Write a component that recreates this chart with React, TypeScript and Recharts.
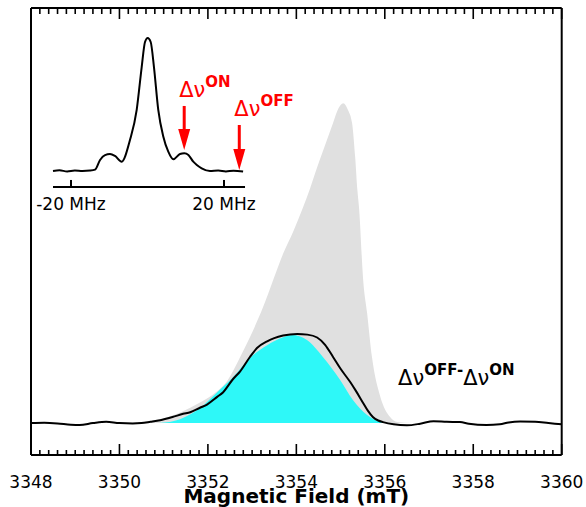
import React from 'react';
import { ComposedChart, Area, Line, XAxis, YAxis, ReferenceLine, ReferenceDot } from 'recharts';

const FONT = '"DejaVu Sans", Verdana, sans-serif';

// ---- main plot axis ticks ----
const majorTicks = [3348, 3350, 3352, 3354, 3356, 3358, 3360];
const minorStep = 0.2;
const allTicks = Array.from({ length: 61 }, (_, i) => +(3348 + i * minorStep).toFixed(1));
const Y_MIN = -1;
const Y_MAX = 13;

// ---- gray spectrum ----
const grayField = [3348, 3350.0, 3350.5, 3350.9, 3351.4, 3351.8, 3352.1, 3352.45, 3352.73, 3352.95, 3353.25, 3353.48, 3353.7, 3353.93, 3354.15, 3354.31, 3354.43, 3354.61, 3354.83, 3354.95, 3355.06, 3355.17, 3355.26, 3355.33, 3355.38, 3355.42, 3355.51, 3355.6, 3355.71, 3355.9, 3356.12, 3356.28, 3356.6, 3360];
const grayValue = [0, 0, 0.03, 0.12, 0.35, 0.63, 0.88, 1.35, 2.07, 2.69, 3.64, 4.5, 5.3, 6.0, 6.75, 7.35, 7.85, 8.55, 9.4, 9.85, 10.02, 9.8, 9.4, 8.33, 7.3, 6.7, 4.5, 3.45, 2.07, 0.82, 0.19, 0.03, 0, 0];

// ---- cyan spectrum ----
const cyanField = [3350.9, 3351.37, 3351.82, 3352.2, 3352.57, 3352.95, 3353.34, 3353.7, 3353.9, 3354.24, 3354.6, 3354.99, 3355.28, 3355.6, 3355.89, 3356.0];
const cyanValue = [0, 0.12, 0.47, 0.95, 1.44, 2.04, 2.44, 2.69, 2.76, 2.6, 2.07, 1.35, 0.72, 0.25, 0.03, 0];

// ---- black difference spectrum ----
const diffField = [3348.0, 3348.3, 3348.6, 3348.9, 3349.1, 3349.4, 3349.7, 3350.0, 3350.3, 3350.5, 3350.7, 3350.92, 3351.2, 3351.44, 3351.6, 3351.82, 3351.98, 3352.21, 3352.34, 3352.57, 3352.73, 3352.95, 3353.11, 3353.34, 3353.5, 3353.7, 3354.02, 3354.25, 3354.47, 3354.65, 3354.83, 3355.0, 3355.21, 3355.35, 3355.51, 3355.62, 3355.73, 3355.85, 3355.96, 3356.2, 3356.5, 3356.8, 3357.1, 3357.4, 3357.7, 3357.9, 3358.3, 3358.6, 3358.8, 3359.06, 3359.4, 3359.7, 3360.0];
const diffValue = [0.0, 0.01, -0.01, -0.05, -0.06, 0.0, 0.04, 0.0, -0.01, 0.0, 0.04, 0.09, 0.19, 0.29, 0.34, 0.48, 0.58, 0.82, 0.96, 1.38, 1.62, 2.07, 2.35, 2.56, 2.66, 2.74, 2.79, 2.77, 2.68, 2.45, 2.07, 1.7, 1.3, 1.0, 0.63, 0.38, 0.19, 0.08, 0.03, -0.04, -0.07, -0.02, 0.06, 0.04, 0.03, -0.02, -0.06, -0.04, 0.02, 0.05, 0.04, 0.0, -0.04];

// ---- inset spectrum (frequency offset in MHz, normalised signal) ----
const insetFreq = [-24.7, -23, -21, -19, -17, -15, -13.7, -12.4, -11.1, -9.8, -8.5, -6.75, -4.58, -2.82, -1.52, -0.65, 0.05, 0.84, 1.7, 2.82, 4.13, 5.44, 6.75, 8.5, 9.62, 10.7, 11.97, 12.9, 14.17, 16.34, 18.5, 20.5, 22.5, 25.0];
const insetSignal = [0.0, 0.005, -0.003, 0.004, 0.0, 0.003, 0.01, 0.083, 0.12, 0.128, 0.113, 0.07, 0.233, 0.46, 0.78, 0.97, 1.0, 0.97, 0.78, 0.46, 0.26, 0.145, 0.088, 0.128, 0.133, 0.12, 0.07, 0.045, 0.02, 0.0, 0.004, -0.003, 0.002, -0.004];
const insetTicks = [-20, 20];
const insetTickLabels = ['-20 MHz', '20 MHz'];
const insetAxisRange = [-24.7, 25.5];
const insetAxisLevel = -0.12;
// inset placement inside the main plot (domains of its hidden axes)
const insetXDomain = [-30.452, 108.29];
const insetYDomain = [-2.1353, 1.2256];

// arrows (MHz position, start level, tip level)
const arrowOn = { x: 9.6, from: 0.489, to: 0.158 };
const arrowOff = { x: 24.0, from: 0.346, to: 0.0075 };

const grayData = grayField.map((f, i) => ({ f, v: grayValue[i] }));
const cyanData = cyanField.map((f, i) => ({ f, v: cyanValue[i] }));
const diffData = diffField.map((f, i) => ({ f, v: diffValue[i] }));
const insetData = insetFreq.map((f, i) => ({ f, v: insetSignal[i] }));

// layout
const W = 586;
const H = 507;
const M = { top: 7, right: 23.3, bottom: 2, left: 30 };
const X_AXIS_H = 50;
const TOP_AXIS_H = 1;
const PLOT_H = H - M.top - M.bottom - X_AXIS_H - TOP_AXIS_H;

const isMajor = (v: number) => majorTicks.some((m) => Math.abs(m - v) < 1e-6);

const BottomTick = (props: any) => {
  const { x, y, payload } = props;
  const major = isMajor(payload.value);
  const top = y - PLOT_H;
  return (
    <g>
      <line x1={x} x2={x} y1={y} y2={y - (major ? 11 : 5)} stroke="#000" strokeWidth={1.6} />
      <line x1={x} x2={x} y1={top} y2={top + (major ? 11 : 6)} stroke="#000" strokeWidth={1.6} />
      {major && (
        <text x={x} y={y + 33} textAnchor="middle" fontSize={17} fontFamily={FONT} fill="#000">
          {Math.round(payload.value)}
        </text>
      )}
    </g>
  );
};

const makeInsetTick = (label: string) => (p: any) => {
  const { cx, cy } = p;
  return (
    <g>
      <line x1={cx} x2={cx} y1={cy} y2={cy - 7} stroke="#000" strokeWidth={2} />
      <text x={cx} y={cy + 23} textAnchor="middle" fontSize={17} fontFamily={FONT} fill="#000">
        {label}
      </text>
    </g>
  );
};

const makeArrow = (sup: string) => (p: any) => {
  const { x1, y1, y2 } = p;
  const head = 21;
  return (
    <g>
      <line x1={x1} x2={x1} y1={y1} y2={y2 - head + 2} stroke="#ff0000" strokeWidth={3} />
      <polygon points={`${x1 - 6},${y2 - head} ${x1 + 6},${y2 - head} ${x1},${y2}`} fill="#ff0000" />
      <text x={x1 - 5} y={y1 - 9} fill="#ff0000" fontFamily={FONT}>
        <tspan fontSize={21}>Δν</tspan>
        <tspan fontSize={15} fontWeight="bold" dy={-10}>{sup}</tspan>
      </text>
    </g>
  );
};

const DiffLabel = (p: any) => {
  const { cx, cy } = p;
  return (
    <text x={cx} y={cy} fill="#000" fontFamily={FONT}>
      <tspan fontSize={21}>Δν</tspan>
      <tspan fontSize={15} fontWeight="bold" dy={-10}>OFF-</tspan>
      <tspan fontSize={21} dy={10}>Δν</tspan>
      <tspan fontSize={15} fontWeight="bold" dy={-10}>ON</tspan>
    </text>
  );
};

const AxisTitle = (p: any) => {
  const vb = p.viewBox || {};
  return (
    <text x={vb.x + vb.width / 2} y={vb.y + 48} textAnchor="middle" fontSize={20} fontWeight="bold" fontFamily={FONT} fill="#000">
      Magnetic Field (mT)
    </text>
  );
};

export default function App() {
  return (
    <div style={{ position: 'absolute', left: 0, top: 0, width: W, height: H, background: '#fff' }}>
      <ComposedChart width={W} height={H} margin={M}>
        <XAxis
          dataKey="f"
          type="number"
          domain={[3348, 3360]}
          ticks={allTicks}
          interval={0}
          height={X_AXIS_H}
          tickSize={0}
          tickMargin={0}
          tickLine={false}
          tick={<BottomTick />}
          axisLine={{ stroke: '#000', strokeWidth: 2 }}
          label={<AxisTitle />}
        />
        <XAxis
          xAxisId="top"
          orientation="top"
          dataKey="f"
          type="number"
          domain={[3348, 3360]}
          height={TOP_AXIS_H}
          tick={false}
          tickLine={false}
          axisLine={{ stroke: '#000', strokeWidth: 2 }}
        />
        <XAxis xAxisId="ix" hide dataKey="f" type="number" domain={insetXDomain} />
        <YAxis yAxisId={0} type="number" domain={[Y_MIN, Y_MAX]} width={1} tick={false} tickLine={false} axisLine={{ stroke: '#000', strokeWidth: 2 }} />
        <YAxis yAxisId="r" orientation="right" type="number" domain={[Y_MIN, Y_MAX]} width={1} tick={false} tickLine={false} axisLine={{ stroke: '#000', strokeWidth: 2 }} />
        <YAxis yAxisId="iy" hide type="number" domain={insetYDomain} />
        <Area data={grayData} dataKey="v" type="monotone" stroke="none" fill="#e0e0e0" fillOpacity={1} baseValue={0} isAnimationActive={false} />
        <Area data={cyanData} dataKey="v" type="monotone" stroke="none" fill="#2ef8f8" fillOpacity={1} baseValue={0} isAnimationActive={false} />
        <Line data={diffData} dataKey="v" type="monotone" stroke="#000" strokeWidth={2} dot={false} isAnimationActive={false} />
        <ReferenceDot x={3356.3} y={1.19} r={0} shape={DiffLabel} />
        {/* inset */}
        <Line xAxisId="ix" yAxisId="iy" data={insetData} dataKey="v" type="monotone" stroke="#000" strokeWidth={2} dot={false} isAnimationActive={false} />
        <ReferenceLine
          xAxisId="ix"
          yAxisId="iy"
          segment={[{ x: insetAxisRange[0], y: insetAxisLevel }, { x: insetAxisRange[1], y: insetAxisLevel }]}
          stroke="#000"
          strokeWidth={2}
        />
        {insetTicks.map((t, i) => (
          <ReferenceDot key={t} xAxisId="ix" yAxisId="iy" x={t} y={insetAxisLevel} r={0} shape={makeInsetTick(insetTickLabels[i])} />
        ))}
        <ReferenceLine xAxisId="ix" yAxisId="iy" segment={[{ x: arrowOn.x, y: arrowOn.from }, { x: arrowOn.x, y: arrowOn.to }]} shape={makeArrow('ON')} />
        <ReferenceLine xAxisId="ix" yAxisId="iy" segment={[{ x: arrowOff.x, y: arrowOff.from }, { x: arrowOff.x, y: arrowOff.to }]} shape={makeArrow('OFF')} />
      </ComposedChart>
    </div>
  );
}
